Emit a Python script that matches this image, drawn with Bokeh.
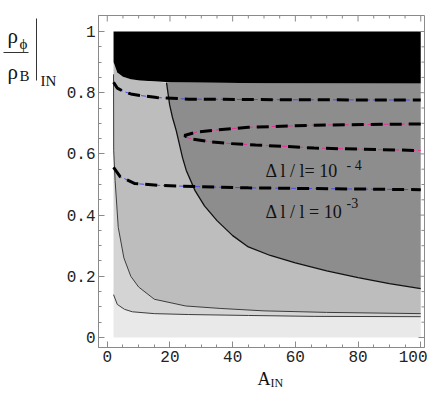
import math
from bokeh.plotting import figure
from bokeh.models import Range1d, FixedTicker, Label
from bokeh.layouts import row, column
from bokeh.core.properties import value
from bokeh.embed import file_html
from bokeh.resources import INLINE

# ---- data ----
x_ticks = [0, 20, 40, 60, 80, 100]
x_tick_labels = ["0", "20", "40", "60", "80", "100"]
x_minor = [5, 10, 15, 25, 30, 35, 45, 50, 55, 65, 70, 75, 85, 90, 95]
y_ticks = [0, 0.2, 0.4, 0.6, 0.8, 1.0]
y_tick_labels = ["0", "0.2", "0.4", "0.6", "0.8", "1"]
y_minor = [0.05, 0.1, 0.15, 0.25, 0.3, 0.35, 0.45, 0.5, 0.55, 0.65, 0.7, 0.75, 0.85, 0.9, 0.95]

A_MIN, A_MAX = 2, 100
V_MIN, V_MAX = 0.0, 1.0

# lowest contour
A_L1 = [2, 3.2, 5.5, 8, 15, 26, 45, 66, 100]
V_L1 = [0.14, 0.108, 0.092, 0.084, 0.078, 0.075, 0.072, 0.069, 0.068]
# second contour
A_L2 = [2.0, 2.05, 2.5, 3.5, 5.3, 7.5, 10, 15, 25, 36, 50, 70, 100]
V_L2 = [0.86, 0.61, 0.513, 0.36, 0.26, 0.2, 0.165, 0.125, 0.103, 0.095, 0.087, 0.082, 0.078]
# dark region boundary
A_D = [18.9, 19.9, 20.8, 22, 24, 25.2, 28, 31, 35, 40, 45, 52, 60, 70, 80, 90, 100]
V_D = [0.833, 0.76, 0.719, 0.676, 0.588, 0.546, 0.48, 0.43, 0.382, 0.333, 0.296, 0.268, 0.244, 0.218, 0.196, 0.176, 0.16]
# black region boundary
A_K = [2, 3.2, 5, 7.5, 10.4, 20, 50, 100]
V_K = [0.9, 0.866, 0.852, 0.844, 0.84, 0.834, 0.831, 0.83]

# dashed curves
A_U = [2, 3.2, 5, 7.5, 10.4, 15.8, 26, 57.7, 100]
V_U = [0.834, 0.815, 0.805, 0.796, 0.791, 0.784, 0.779, 0.777, 0.776]
A_E = [100, 66, 57.7, 45, 36.6, 28.4, 24.6, 26.2, 33.4, 38.8, 47.3, 57.7, 66, 100]
V_E = [0.698, 0.694, 0.691, 0.687, 0.680, 0.671, 0.660, 0.650, 0.639, 0.634, 0.629, 0.624, 0.619, 0.611]
A_M = [2, 4.1, 8.8, 16.7, 29, 45, 100]
V_M = [0.556, 0.526, 0.503, 0.497, 0.493, 0.489, 0.483]

C_LIGHT, C_MID, C_GRAY, C_DARK, C_BLACK = "#e9e9e9", "#d4d4d4", "#bdbdbd", "#8d8d8d", "#000000"
AXIS_C = "#8a8a8a"
SERIF = "Liberation Serif"

X0, X1 = -2.8, 101.2
Y0, Y1 = -0.0327, 1.0523

LEFT_W = 60
MAIN_W, MAIN_H = 367, 366
TOTAL_H = 391
B_LEFT, B_RIGHT = 38, 3

p = figure(width=MAIN_W, height=MAIN_H, x_range=Range1d(X0, X1), y_range=Range1d(Y0, Y1),
           output_backend="svg", toolbar_location=None,
           min_border_left=B_LEFT, min_border_right=B_RIGHT, min_border_top=15, min_border_bottom=MAIN_H - 347)
p.grid.visible = False
p.outline_line_color = AXIS_C
p.background_fill_color = "white"
p.border_fill_color = "white"

# ---- filled regions ----
p.patch([A_MIN] + A_L1 + [A_MAX], [V_MIN] + V_L1 + [V_MIN], fill_color=C_LIGHT, line_color=None)
p.patch(A_L2 + A_L1[::-1], V_L2 + V_L1[::-1], fill_color=C_MID, line_color=None)
kd = [i for i, a in enumerate(A_K) if a <= A_D[0]]
p.patch([A_K[i] for i in kd] + A_D + A_L2[::-1], [V_K[i] for i in kd] + V_D + V_L2[::-1],
        fill_color=C_GRAY, line_color=None)
kr = [i for i, a in enumerate(A_K) if a > A_D[0]]
p.patch(A_D + [A_K[i] for i in kr][::-1], V_D + [V_K[i] for i in kr][::-1], fill_color=C_DARK, line_color=None)
p.patch(A_K + [A_MAX, A_MIN], V_K + [V_MAX, V_MAX], fill_color=C_BLACK, line_color=None)

# contour lines
p.line(A_L1, V_L1, line_color="#3c3c3c", line_width=1)
p.line(A_L2, V_L2, line_color="#3c3c3c", line_width=1)
p.line(A_D, V_D, line_color="#111111", line_width=1.3)

# dashed curves: thin coloured under thick black
for a, v, c in [(A_U, V_U, "#4a4af2"), (A_E, V_E, "#e8309a"), (A_M, V_M, "#4a4af2")]:
    p.line(a, v, line_color=c, line_width=1, line_dash="5 3")
    p.line(a, v, line_color="black", line_width=3, line_dash="12 7")

# ---- axes (left / below) ----
def style_axis(ax, ticks, minor, labels):
    ax.ticker = FixedTicker(ticks=ticks, minor_ticks=minor)
    ax.axis_line_color = AXIS_C
    ax.major_tick_line_color = AXIS_C
    ax.minor_tick_line_color = AXIS_C
    ax.major_tick_in = 6
    ax.major_tick_out = 0
    ax.minor_tick_in = 3
    ax.minor_tick_out = 0
    ax.major_label_overrides = dict(zip(ticks, labels))
    ax.major_label_text_font = "Liberation Mono"
    ax.major_label_text_font_size = "16px"
    ax.major_label_text_color = "#222222"
    ax.major_label_standoff = 3

style_axis(p.xaxis[0], x_ticks, x_minor, x_tick_labels)
style_axis(p.yaxis[0], y_ticks, y_minor, y_tick_labels)

# frame ticks on right and top sides (inward)
p.ray(x=[X1] * len(y_ticks), y=y_ticks, length=6, length_units="screen", angle=math.pi, line_color=AXIS_C)
p.ray(x=[X1] * len(y_minor), y=y_minor, length=3, length_units="screen", angle=math.pi, line_color=AXIS_C)
p.ray(x=x_ticks, y=[Y1] * len(x_ticks), length=6, length_units="screen", angle=-math.pi / 2, line_color=AXIS_C)
p.ray(x=x_minor, y=[Y1] * len(x_minor), length=3, length_units="screen", angle=-math.pi / 2, line_color=AXIS_C)

# ---- in-plot annotations (positions from picture pixels) ----
def dx(px):
    return X0 + (px - 98) / 3.135

def dy(py):
    return Y1 - (py - 15) / 306.0

def lab(px, py, text, size):
    p.add_layout(Label(x=dx(px), y=dy(py), text=text, text_font=SERIF, text_font_size=size,
                       text_baseline="alphabetic", text_align="left", text_color="#111111"))

lab(265, 171, "Δ l / l= 10", "18px")
lab(346, 165, "- 4", "14px")
lab(265, 212, "Δ l / l = 10", "18px")
lab(346, 203, "-3", "14px")

# ---- y-axis title panel: rho_phi / rho_B |_IN ----
yl = figure(width=LEFT_W, height=TOTAL_H, x_range=Range1d(0, LEFT_W), y_range=Range1d(TOTAL_H, 0),
            output_backend="svg", toolbar_location=None, min_border=0,
            min_border_left=0, min_border_right=0, min_border_top=0, min_border_bottom=0)
yl.axis.visible = False
yl.grid.visible = False
yl.outline_line_color = None
yl.text(x=[7, 7], y=[35, 71], text=["ρ", "ρ"], text_font=value(SERIF), text_font_size=value("21px"),
        text_baseline="alphabetic", text_color="#111111")
yl.text(x=[19, 19, 40], y=[43, 75, 80], text=["ϕ", "B", "IN"], text_font=value(SERIF),
        text_font_size=value("15px"), text_baseline="alphabetic", text_color="#111111")
yl.segment(x0=[3, 36], y0=[52, 18], x1=[28, 36], y1=[52, 80], line_color="#333333", line_width=1)

# ---- x-axis title panel: A_IN (frame aligned with the main frame) ----
FL = LEFT_W + B_LEFT
FR = LEFT_W + MAIN_W - B_RIGHT
xl = figure(width=MAIN_W, height=TOTAL_H - MAIN_H, x_range=Range1d(FL, FR),
            y_range=Range1d(TOTAL_H, MAIN_H), output_backend="svg", toolbar_location=None,
            min_border=0, min_border_left=B_LEFT, min_border_right=B_RIGHT,
            min_border_top=0, min_border_bottom=0)
xl.axis.visible = False
xl.grid.visible = False
xl.outline_line_color = None
xl.text(x=[257], y=[378.5], text=["A"], text_font=value(SERIF), text_font_size=value("18px"),
        text_baseline="middle", text_color="#111111")
xl.text(x=[270], y=[382.5], text=["IN"], text_font=value(SERIF), text_font_size=value("12px"),
        text_baseline="middle", text_color="#111111")

layout = row(yl, column(p, xl, spacing=0), spacing=0)
open("out.html", "w").write(file_html(layout, INLINE))
